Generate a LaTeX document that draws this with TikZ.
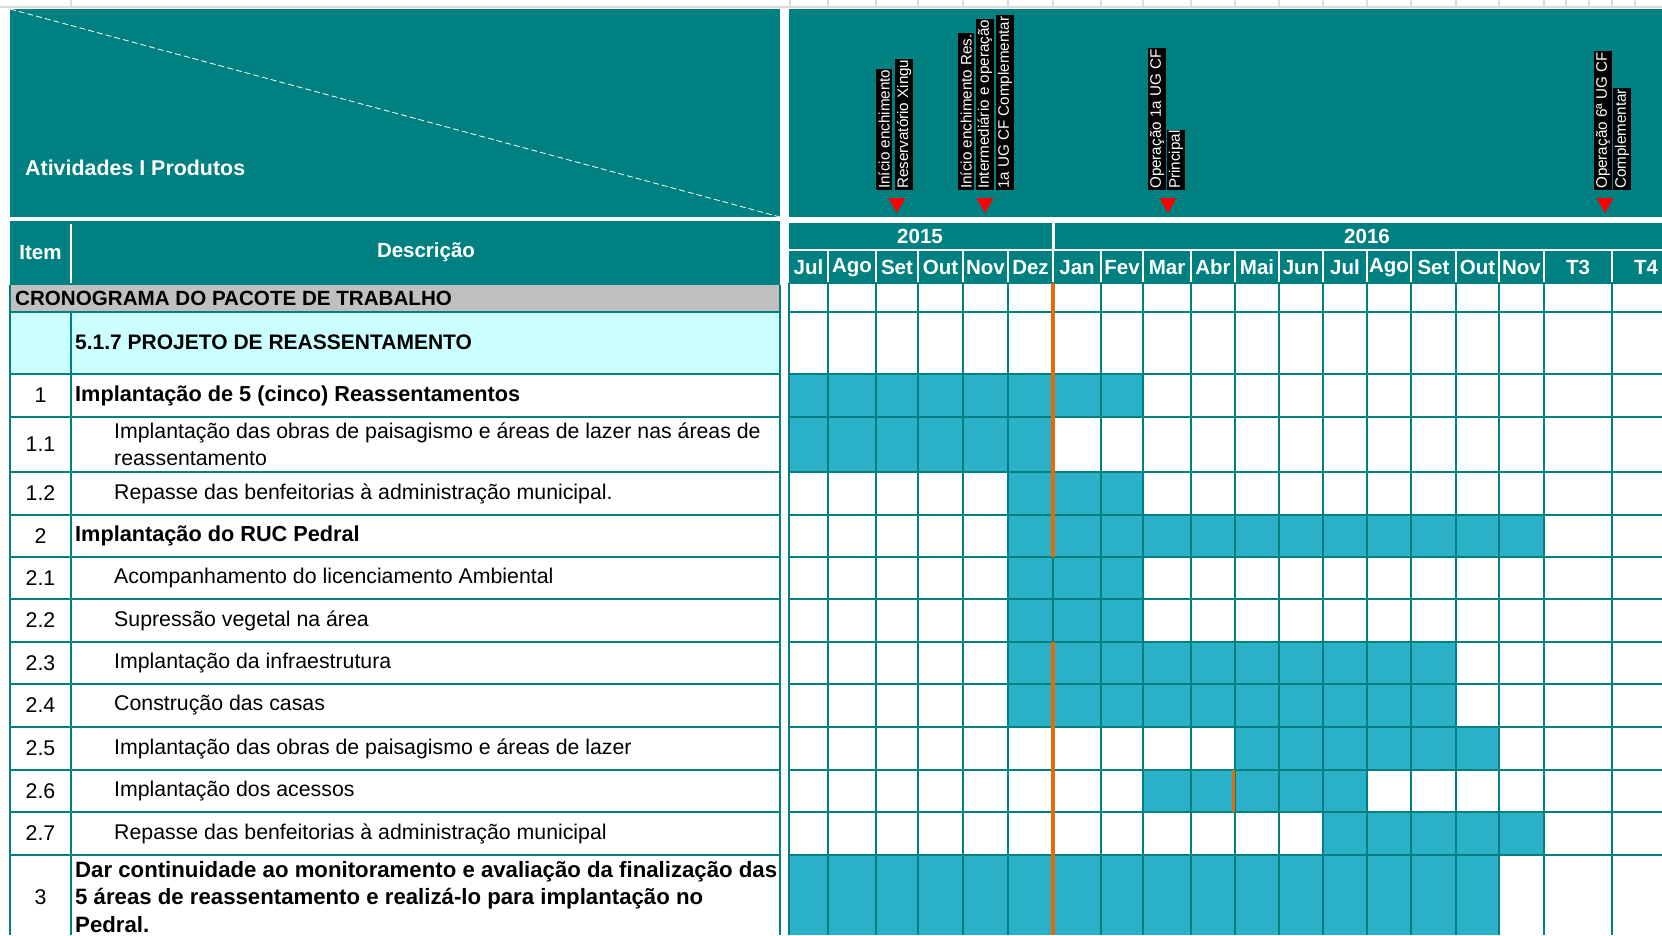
\documentclass[tikz,border=0pt]{standalone}
\usepackage{fontspec}
\setmainfont{Liberation Sans}
\definecolor{teal1}{RGB}{0,128,128}
\definecolor{bar}{RGB}{43,177,199}
\definecolor{lcyan}{RGB}{204,255,255}
\definecolor{greyrow}{RGB}{192,192,192}
\definecolor{orng}{RGB}{227,108,10}
\definecolor{xlgrid}{RGB}{218,218,218}
\begin{document}
\begin{tikzpicture}[x=1pt,y=-1pt,
  body/.style={font=\fontsize{21.3}{27.5}\selectfont, inner sep=0pt},
  bbody/.style={font=\fontsize{21.7}{27.5}\selectfont\bfseries, inner sep=0pt},
  capsbody/.style={font=\fontsize{21}{27.5}\selectfont\bfseries, inner sep=0pt},
  hdr/.style={font=\fontsize{20.5}{26}\selectfont\bfseries, text=white, inner sep=0pt},
  mile/.style={rotate=90, anchor=west, fill=black, text=white, font=\fontsize{15.2}{15.2}\selectfont, inner xsep=1pt, inner ysep=2pt},
  gridline/.style={draw=teal1, line width=2.8pt},
  sepline/.style={draw=white, line width=2.4pt},
  milemark/.style={fill=red},
]
\useasboundingbox (0,0) rectangle (1662,935);
\fill[white] (0,0) rectangle (1662,935);

% spreadsheet grid at the top
\draw[xlgrid, line width=1.2pt] (0,7) -- (1662,7);
\foreach \x in {71,790,828,876,918,963,1008,1053,1101,1143,1191,1235,1279,1323,1367,1411,1456,1499,1544,1566,1589,1612,1635}
  \draw[xlgrid, line width=1.2pt] (\x,0) -- (\x,8);

% top header panels
\fill[teal1] (10,9) rectangle (780,217);
\draw[white, line width=0.8pt, dash pattern=on 6pt off 3pt] (10,9) -- (780,217);
\node[hdr, font=\fontsize{21.4}{26}\selectfont\bfseries, anchor=west] (act) at (25,167.5) {Atividades I Produtos};
\fill[teal1] (789,9) rectangle (1662,217);

% milestones
\node[mile] (ma1) at (884,190) {Início enchimento};
\node[mile] (ma2) at (904,190) {Reservatório Xingu};
\node[mile] (mb1) at (966,190) {Início enchimento Res.};
\node[mile] (mb2) at (985,190) {Intermediário e operação};
\node[mile] (mb3) at (1005,190) {1a UG CF Complementar};
\node[mile] (mc1) at (1157,190) {Operação 1a UG CF};
\node[mile] (mc2) at (1176,190) {Principal};
\node[mile] (md1) at (1603,190) {Operação 6ª UG CF};
\node[mile] (md2) at (1622,190) {Complementar};
\foreach \x in {897,985,1168,1605}
  \fill[milemark] (\x-8.5,198) -- (\x+8.5,198) -- (\x,213) -- cycle;

% left column header
\fill[teal1] (10,221) rectangle (780,285);
\draw[sepline, line width=2pt] (71,224) -- (71,283);
\node[hdr] (item) at (40.5,252.5) {Item};
\node[hdr] (desc) at (426,252.5) {Descrição};

% left table rows
\fill[greyrow] (10,285) rectangle (780,312);
\fill[lcyan] (10,312) rectangle (780,374);
\foreach \y in {312,374,417,472,515,557,599,642,684,727,770,812,855}
  \draw[gridline] (10,\y) -- (780,\y);
\draw[gridline] (10,285) -- (10,935);
\draw[gridline] (71,312) -- (71,935);
\draw[gridline] (780,285) -- (780,935);

\node[capsbody, font=\fontsize{20.6}{27.5}\selectfont\bfseries, anchor=west] (cron) at (15,298) {CRONOGRAMA DO PACOTE DE TRABALHO};
\node[capsbody, anchor=west] (proj) at (75,342) {5.1.7 PROJETO DE REASSENTAMENTO};

\node[body] (n1) at (40.5,395.5) {1};
\node[bbody, anchor=west] (t1) at (75,395.5) {Implantação de 5 (cinco) Reassentamentos};
\node[body] (n11) at (40.5,444.5) {1.1};
\node[body, anchor=west, align=left] (t11) at (114,444.5) {Implantação das obras de paisagismo e áreas de lazer nas áreas de\\reassentamento};
\node[body] (n12) at (40.5,493.5) {1.2};
\node[body, anchor=west] (t12) at (114,493.5) {Repasse das benfeitorias à administração municipal.};
\node[body] (n2) at (40.5,536) {2};
\node[bbody, anchor=west] (t2) at (75,536) {Implantação do RUC Pedral};
\node[body] (n21) at (40.5,578) {2.1};
\node[body, anchor=west] (t21) at (114,578) {Acompanhamento do licenciamento Ambiental};
\node[body] (n22) at (40.5,620.5) {2.2};
\node[body, anchor=west] (t22) at (114,620.5) {Supressão vegetal na área};
\node[body] (n23) at (40.5,663) {2.3};
\node[body, anchor=west] (t23) at (114,663) {Implantação da infraestrutura};
\node[body] (n24) at (40.5,705.5) {2.4};
\node[body, anchor=west] (t24) at (114,705.5) {Construção das casas};
\node[body] (n25) at (40.5,748.5) {2.5};
\node[body, anchor=west] (t25) at (114,748.5) {Implantação das obras de paisagismo e áreas de lazer};
\node[body] (n26) at (40.5,791) {2.6};
\node[body, anchor=west] (t26) at (114,791) {Implantação dos acessos};
\node[body] (n27) at (40.5,833.5) {2.7};
\node[body, anchor=west] (t27) at (114,833.5) {Repasse das benfeitorias à administração municipal};
\node[body] (n3) at (40.5,897) {3};
\node[bbody, font=\fontsize{22.2}{27.5}\selectfont\bfseries, anchor=west, align=left] (t3) at (75,897) {Dar continuidade ao monitoramento e avaliação da finalização das\\5 áreas de reassentamento e realizá-lo para implantação no\\Pedral.};

% timeline header
\fill[teal1] (789,223) rectangle (1052,249);
\fill[teal1] (1055,223) rectangle (1662,249);
\node[hdr] (y2015) at (920,236) {2015};
\node[hdr] (y2016) at (1367,236) {2016};
\fill[teal1] (789,251) rectangle (1662,283);
\foreach \x in {828,876,918,963,1008,1053,1101,1143,1191,1235,1279,1323,1367,1411,1456,1499,1544,1612}
  \draw[sepline] (\x,251) -- (\x,283);
\foreach \a/\b/\m [count=\i] in {789/828/Jul,828/876/Ago,876/918/Set,918/963/Out,963/1008/Nov,1008/1053/Dez,1053/1101/Jan,1101/1143/Fev,1143/1191/Mar,1191/1235/Abr,1235/1279/Mai,1279/1323/Jun,1323/1367/Jul,1367/1411/Ago,1411/1456/Set,1456/1499/Out,1499/1544/Nov,1544/1612/T3,1612/1680/T4}
  \node[hdr] (mon\i) at ({(\a+\b)/2},267.5) {\m};

% bars
\foreach \ya/\yb/\xa/\xb in {374/417/789/1143, 417/472/789/1053, 472/515/1008/1143, 515/557/1008/1544, 557/599/1008/1143, 599/642/1008/1143, 642/684/1008/1456, 684/727/1008/1456, 727/770/1235/1499, 770/812/1143/1367, 812/855/1323/1544, 855/935/789/1499}
  \fill[bar] (\xa,\ya) rectangle (\xb,\yb);

% timeline grid
\foreach \y in {283,312,374,417,472,515,557,599,642,684,727,770,812,855}
  \draw[gridline] (789,\y) -- (1662,\y);
\foreach \x in {789,828,876,918,963,1008,1053,1101,1143,1191,1235,1279,1323,1367,1411,1456,1499,1544,1612}
  \draw[gridline] (\x,283) -- (\x,935);

% today markers
\draw[orng, line width=3.5pt] (1053,283) -- (1053,557);
\draw[orng, line width=3.5pt] (1053,642) -- (1053,935);
\draw[orng, line width=3.5pt] (1233.5,770) -- (1233.5,812);
\end{tikzpicture}
\end{document}
